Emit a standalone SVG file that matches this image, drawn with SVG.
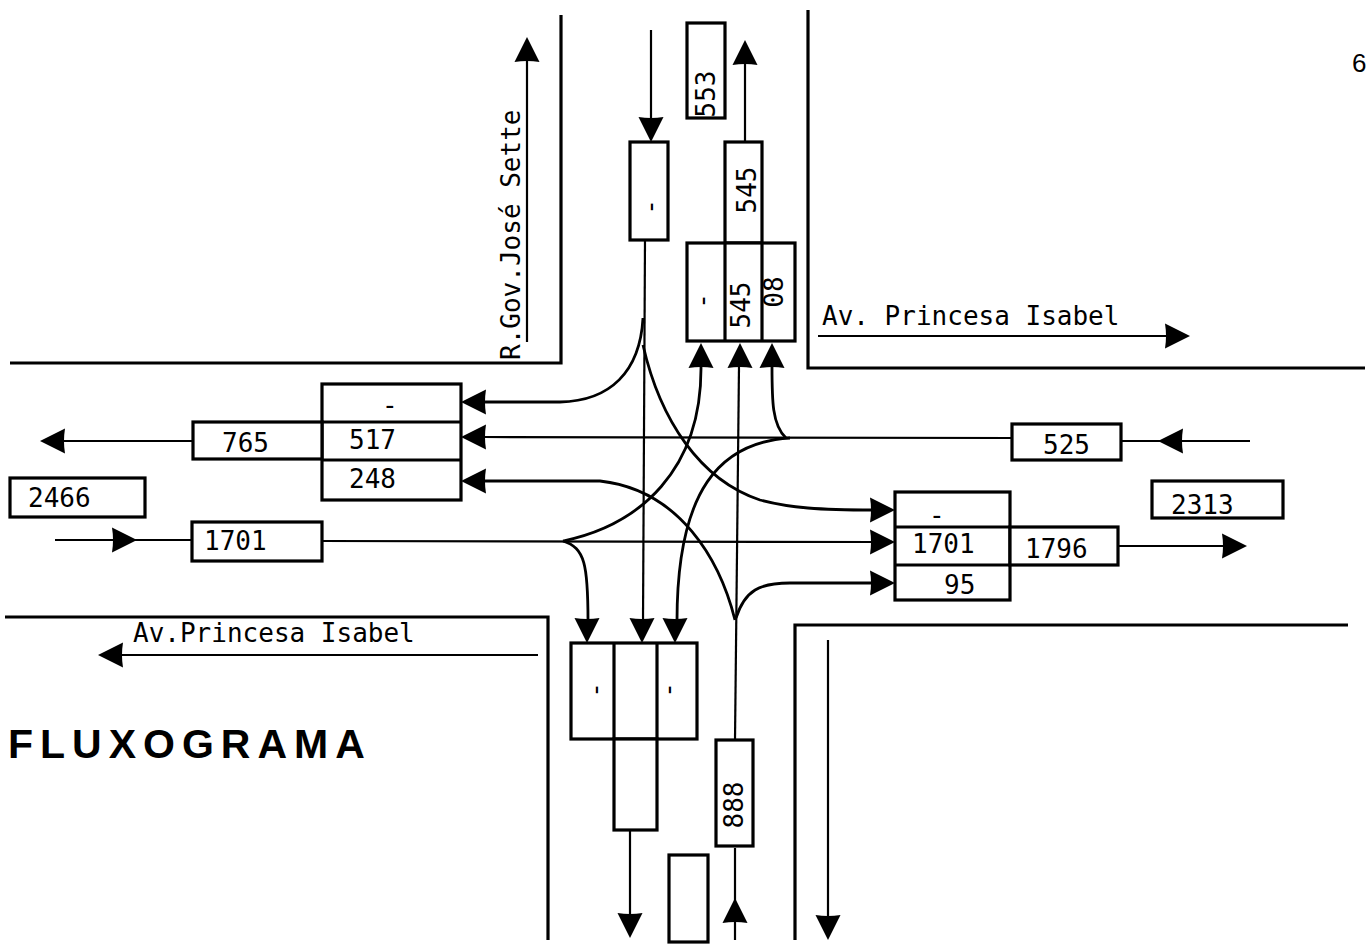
<svg xmlns="http://www.w3.org/2000/svg" xmlns:xlink="http://www.w3.org/1999/xlink" width="1368" height="945" viewBox="0 0 1368 945">
<style>
.road{fill:none;stroke:#000;stroke-width:3.2}
.box{fill:#fff;stroke:#000;stroke-width:3.2}
.ln{fill:none;stroke:#000;stroke-width:2.2}
.cv{fill:none;stroke:#000;stroke-width:2.8}
.t{font-family:"DejaVu Sans Mono","Liberation Mono",monospace;font-size:26px;fill:#000}
.lbl{font-family:"DejaVu Sans Mono","Liberation Mono",monospace;font-size:26px;fill:#000}
.title{font-family:"Liberation Sans",Arial,sans-serif;font-size:41px;font-weight:bold;letter-spacing:7px;fill:#000}
</style>
<defs>
<path id="ah" d="M0,0 L-25,-12.5 Q-23,0 -25,12.5 Z" fill="#000"/>
</defs>
<rect width="1368" height="945" fill="#fff"/>

<g id="roads">
<path class="road" d="M561,15 L561,363 L10,363"/>
<path class="road" d="M808,10 L808,368 L1365,368"/>
<path class="road" d="M5,617 L548,617 L548,940"/>
<path class="road" d="M795,940 L795,625 L1348,625"/>
</g>

<g id="street-labels">
<text class="lbl" transform="translate(520,360) rotate(-90)">R.Gov.José Sette</text>
<line class="ln" x1="527" y1="342" x2="527" y2="58"/>
<use xlink:href="#ah" transform="translate(527,37) rotate(-90)"/>
<text class="lbl" x="822" y="325">Av. Princesa Isabel</text>
<line class="ln" x1="818" y1="336" x2="1168" y2="336"/>
<use xlink:href="#ah" transform="translate(1190,336)"/>
<text class="lbl" x="133" y="642">Av.Princesa Isabel</text>
<line class="ln" x1="538" y1="655" x2="120" y2="655"/>
<use xlink:href="#ah" transform="translate(98,655) rotate(180)"/>
<text class="title" x="8" y="758">FLUXOGRAMA</text>
<text x="1352" y="72" font-family="Liberation Sans,Arial,sans-serif" font-size="26">6</text>
</g>

<g id="connectors">
<line class="ln" x1="651" y1="30" x2="651" y2="122"/>
<use xlink:href="#ah" transform="translate(651,142) rotate(90)"/>
<line class="ln" x1="645" y1="240" x2="643" y2="621"/>
<path class="cv" d="M643,318 C640,372 610,401 560,402 L484,402"/>
<path class="cv" d="M643,345 C660,420 700,480 760,500 C790,508 820,510 873,510"/>
<line class="ln" x1="745" y1="142" x2="745" y2="60"/>
<use xlink:href="#ah" transform="translate(745,40) rotate(-90)"/>
<line class="ln" x1="55" y1="540" x2="192" y2="540"/>
<use xlink:href="#ah" transform="translate(137,540)"/>
<line class="ln" x1="322" y1="541" x2="873" y2="542"/>
<path class="cv" d="M563,541 C640,525 702,470 701,366"/>
<path class="cv" d="M563,541 C585,548 588,565 588,621"/>
<line class="ln" x1="1121" y1="441" x2="1250" y2="441"/>
<use xlink:href="#ah" transform="translate(1158,441) rotate(180)"/>
<line class="ln" x1="1012" y1="438" x2="484" y2="437"/>
<path class="cv" d="M786,438 C772,425 772,400 772,366"/>
<path class="cv" d="M790,438 C720,442 677,490 677,621"/>
<line class="ln" x1="193" y1="441" x2="62" y2="441"/>
<use xlink:href="#ah" transform="translate(40,441) rotate(180)"/>
<line class="ln" x1="1118" y1="546" x2="1225" y2="546"/>
<use xlink:href="#ah" transform="translate(1247,546)"/>
<line class="ln" x1="735" y1="940" x2="735" y2="848"/>
<use xlink:href="#ah" transform="translate(735,898) rotate(-90)"/>
<line class="ln" x1="735" y1="740" x2="739" y2="366"/>
<path class="cv" d="M736,618 C745,590 760,583 790,583 L873,583"/>
<path class="cv" d="M735,620 C720,560 680,490 600,481 L484,481"/>
<line class="ln" x1="630" y1="830" x2="630" y2="918"/>
<use xlink:href="#ah" transform="translate(630,938) rotate(90)"/>
<line class="ln" x1="828" y1="640" x2="828" y2="918"/>
<use xlink:href="#ah" transform="translate(828,940) rotate(90)"/>
<use xlink:href="#ah" transform="translate(461,402) rotate(180)"/>
<use xlink:href="#ah" transform="translate(461,437) rotate(180)"/>
<use xlink:href="#ah" transform="translate(461,481) rotate(180)"/>
<use xlink:href="#ah" transform="translate(895,510)"/>
<use xlink:href="#ah" transform="translate(895,542)"/>
<use xlink:href="#ah" transform="translate(895,583)"/>
<use xlink:href="#ah" transform="translate(701,343) rotate(-90)"/>
<use xlink:href="#ah" transform="translate(740,343) rotate(-90)"/>
<use xlink:href="#ah" transform="translate(772,343) rotate(-90)"/>
<use xlink:href="#ah" transform="translate(587,643) rotate(90)"/>
<use xlink:href="#ah" transform="translate(642,643) rotate(90)"/>
<use xlink:href="#ah" transform="translate(675,643) rotate(90)"/>
</g>

<g id="node-top-in">
<rect class="box" x="630" y="142" width="38" height="98"/>
<text class="t" text-anchor="middle" transform="translate(652,207) rotate(-90)" y="7">-</text>
</g>

<g id="node-553">
<rect class="box" x="687" y="23" width="38" height="95"/>
<text class="t" text-anchor="middle" transform="translate(705,94) rotate(-90)" y="10">553</text>
</g>

<g id="node-top-out">
<rect class="box" x="725" y="142" width="37" height="101"/>
<text class="t" text-anchor="middle" transform="translate(746,190) rotate(-90)" y="10">545</text>
</g>

<g id="node-top-lanes">
<rect class="box" x="687" y="243" width="108" height="98"/>
<line class="box" x1="725" y1="243" x2="725" y2="341"/>
<line class="box" x1="762" y1="243" x2="762" y2="341"/>
<text class="t" text-anchor="middle" transform="translate(704,301) rotate(-90)" y="7">-</text>
<text class="t" text-anchor="middle" transform="translate(740,305) rotate(-90)" y="10">545</text>
<text class="t" text-anchor="middle" transform="translate(773,292) rotate(-90)" y="10">08</text>
</g>

<g id="node-left-lanes">
<rect class="box" x="322" y="384" width="139" height="116"/>
<line class="box" x1="322" y1="422" x2="461" y2="422"/>
<line class="box" x1="322" y1="460" x2="461" y2="460"/>
<text class="t" x="382" y="414">-</text>
<text class="t" x="349" y="449">517</text>
<text class="t" x="349" y="488">248</text>
</g>

<g id="node-765">
<rect class="box" x="193" y="422" width="129" height="37"/>
<text class="t" x="222" y="452">765</text>
</g>

<g id="node-2466">
<rect class="box" x="10" y="478" width="135" height="39"/>
<text class="t" x="28" y="507">2466</text>
</g>

<g id="node-1701-in">
<rect class="box" x="192" y="522" width="130" height="39"/>
<text class="t" x="204" y="550">1701</text>
</g>

<g id="node-right-lanes">
<rect class="box" x="895" y="492" width="115" height="108"/>
<line class="box" x1="895" y1="527" x2="1010" y2="527"/>
<line class="box" x1="895" y1="565" x2="1010" y2="565"/>
<text class="t" x="929" y="524">-</text>
<text class="t" x="912" y="553">1701</text>
<text class="t" x="944" y="594">95</text>
</g>

<g id="node-1796">
<rect class="box" x="1010" y="527" width="108" height="38"/>
<text class="t" x="1025" y="558">1796</text>
</g>

<g id="node-525">
<rect class="box" x="1012" y="424" width="109" height="36"/>
<text class="t" x="1043" y="454">525</text>
</g>

<g id="node-2313">
<rect class="box" x="1152" y="481" width="131" height="37"/>
<text class="t" x="1171" y="514">2313</text>
</g>

<g id="node-bottom-lanes">
<rect class="box" x="571" y="643" width="126" height="96"/>
<line class="box" x1="614" y1="643" x2="614" y2="739"/>
<line class="box" x1="657" y1="643" x2="657" y2="739"/>
<text class="t" text-anchor="middle" transform="translate(597,690) rotate(-90)" y="7">-</text>
<text class="t" text-anchor="middle" transform="translate(670,690) rotate(-90)" y="7">-</text>
</g>

<g id="node-bottom-out">
<rect class="box" x="614" y="739" width="43" height="91"/>
</g>

<g id="node-888">
<rect class="box" x="716" y="740" width="37" height="106"/>
<text class="t" text-anchor="middle" transform="translate(733,805) rotate(-90)" y="10">888</text>
</g>

<g id="node-bottom-empty">
<rect class="box" x="669" y="855" width="39" height="87"/>
</g>
</svg>
